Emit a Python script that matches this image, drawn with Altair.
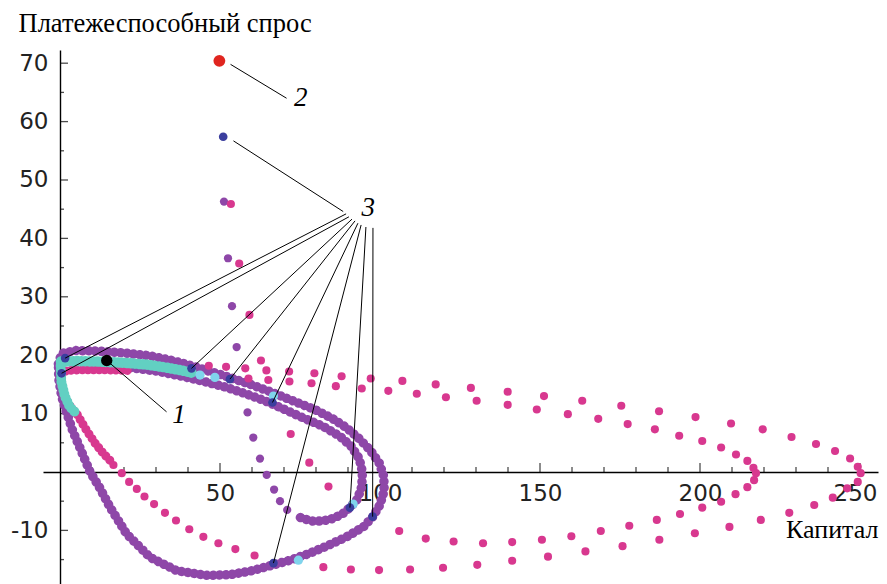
import altair as alt
import pandas as pd

# ---------------- data ----------------
# dense purple trajectory: outer closed band
po_x = [-0.5, 0.5, 5, 12, 20, 28, 35, 41, 47, 53, 59, 65, 70, 75, 80, 85, 89.5, 93.5, 97, 99.8, 101.2,
        101.3, 100, 97.7, 94.8, 89.6, 83.3, 78.1, 71.9, 66.7, 60, 53, 45.8, 36.5, 28.1, 20.8, 15.6,
        12.3, 9.4, 6.5, 4, 2, 0.5, -0.4, -0.5]
po_y = [18.5, 20.3, 20.8, 20.7, 20.4, 19.9, 19.1, 18.2, 17.2, 16.2, 15.1, 13.9, 12.8, 11.7, 10.6, 9.2, 7.6,
        5.7, 3.7, 1.5, -0.8, -3.2, -5.6, -7.7, -9.4, -11.1, -12.7, -13.9, -15.1, -15.9, -16.9, -17.6,
        -17.7, -16.9, -14.6, -10.6, -6.0, -2.6, 0, 3.8, 7.0, 10.3, 13, 16, 18.5]
# dense purple trajectory: inner loop
pi_x = [20, 30, 38, 45, 52, 58, 64, 69.8, 75, 82.3, 87.5, 91, 93.5, 94.5, 94.3, 93, 90.6, 88, 85, 82, 79, 76, 73.4]
pi_y = [18.0, 17.3, 16.4, 15.5, 14.5, 13.4, 12.2, 10.8, 9.5, 7.8, 6.1, 4.4, 2.3, 0, -2.5, -4.6, -6.1, -7.3,
        -8.0, -8.4, -8.4, -8.0, -7.4]
# sparse purple points (descent from the start)
pp_x = [51.25, 52.5, 53.75, 55.2, 58.6, 60.4, 62.5, 64.6, 66.9, 68.75, 71.0]
pp_y = [46.3, 36.6, 28.4, 21.4, 10.2, 5.9, 2.3, -0.5, -3.0, -5.0, -6.5]

# dense magenta part near the left edge
md_x = [21, 14, 7, 2, 0.3, 0.6, 1.8, 3.5, 5.2, 8.0, 11.0, 13.5, 15.6]
md_y = [17.4, 17.5, 17.5, 17.4, 16.5, 14.5, 12.5, 11.0, 10.0, 7.4, 4.9, 3.2, 2.0]

# sparse magenta points
m_descent_x = [53.4, 56, 59.2, 62.8, 72.1, 77.9, 83.9]
m_descent_y = [45.9, 35.7, 26.9, 19.1, 6.5, 1.6, -2.5]
m_loop1_x = [106, 114.3, 123, 132.2, 141.3, 150.6, 159.8, 169, 177.9, 186.5, 193.75, 200.7, 206.6, 211.1,
             214.8, 216.9, 217.5, 216.7, 214.8, 211.25, 206.6, 200.7, 193.5, 185.9, 177.4, 168.2, 158.7,
             149, 139.9, 130.2, 120.6, 111.5, 102.6, 94.3, 86.2, 78.6, 71.7, 65.1, 58.9]
m_loop1_y = [-10.1, -11.4, -11.9, -12.2, -12.0, -11.6, -11.0, -10.1, -9.2, -8.2, -7.2, -6.1, -5.1, -3.8,
             -2.6, -1.4, -0.2, 0.7, 1.9, 3.0, 4.2, 5.3, 6.2, 7.3, 8.2, 9.1, 9.9, 10.7, 11.5, 12.2, 12.8,
             13.4, 13.9, 14.3, 14.7, 15.2, 15.5, 15.75, 16.0]
m_left_x = [16.7, 19.3, 21.6, 24, 26.4, 29.4, 32.8, 36.25, 40.4, 44.8, 49.5, 54.8, 60.8]
m_left_y = [1.2, -0.2, -1.7, -2.9, -4.2, -5.5, -7.0, -8.3, -9.8, -11.1, -12.2, -13.2, -14.3]
m_loop2_x = [82.3, 90.9, 99.7, 109.4, 119.7, 130.4, 141.3, 152.5, 164.2, 175.8, 187.3, 198.4, 209.2, 219,
             227.9, 235.7, 241.5, 246, 249.3, 250.2, 249.3, 246.9, 242.2, 236.25, 228.6, 219.6, 209.7,
             198.6, 187.2, 175.4, 163.2, 151.25, 139.9, 128.4, 117.4, 107, 97.1, 88, 79.5, 71.6, 64.5,
             57.9, 51.9, 46.5]
m_loop2_y = [-16.3, -16.7, -16.8, -16.7, -16.4, -15.9, -15.2, -14.5, -13.6, -12.7, -11.6, -10.5, -9.4,
             -8.2, -7.0, -5.65, -4.4, -2.8, -1.7, -0.2, 0.9, 2.3, 3.6, 4.8, 6.0, 7.3, 8.3, 9.4, 10.4,
             11.35, 12.2, 13.0, 13.75, 14.4, 15.0, 15.6, 16.0, 16.4, 16.9, 17.2, 17.4, 17.75, 18.0, 18.2]

# teal (cyan) bands
tt_x = [0.3, 5, 12, 20, 27, 33, 38, 42]
tt_y = [18.9, 19.0, 18.9, 18.7, 18.4, 17.9, 17.4, 16.9]
tl_x = [0.2, 0.4, 1.5, 3.0, 4.6]
tl_y = [18.2, 15.5, 13.0, 11.2, 10.3]
# light-blue points
lb_x = [43.75, 48.4, 66.7, 74.5, 91.6]
lb_y = [16.6, 16.2, 13.0, -15.1, -5.5]
# dark-blue marker points (label 3)
bl_x = [51.0, 1.6, 0.5, 41.1, 53.1, 66.4, 66.7, 90.6, 97.7]
bl_y = [57.4, 19.5, 16.9, 17.75, 15.9, 11.9, -15.6, -6.1, -7.65]
# equilibrium (label 1) and start point (label 2)
eq_x, eq_y = [14.6], [19.1]
st_x, st_y = [49.8], [70.4]

# leader lines
ld_x1 = [14.6, 53.3, 88.5, 89.4, 90.3, 91.25, 92.2, 93.1, 94.1, 95.6, 97.8]
ld_y1 = [19.1, 69.8, 44.6, 44.2, 43.7, 43.3, 43.0, 42.6, 42.3, 41.95, 41.8]
ld_x2 = [33.3, 70.8, 54.2, 1.6, 0.5, 41.1, 53.1, 66.4, 66.7, 90.6, 97.7]
ld_y2 = [10.3, 64.0, 56.7, 19.5, 16.9, 17.75, 15.9, 11.9, -15.6, -6.1, -7.65]
lab_text = ["1", "2", "3"]
lab_x = [37.2, 75.2, 96.3]
lab_y = [9.7, 64.0, 45.2]

# axis ticks
x_major = [50, 100, 150, 200, 250]
x_minor = [10, 20, 30, 40, 60, 70, 80, 90, 110, 120, 130, 140, 160, 170, 180, 190, 210, 220, 230, 240]
y_major = [-10, 10, 20, 30, 40, 50, 60, 70]
y_minor = [-15, -5, 5, 15, 25, 35, 45, 55, 65]

# ---------------- layout ----------------
X_MIN, X_MAX = -5.3125, 255.625
Y_MIN, Y_MAX = -19.18, 72.26
W, H = 835, 534
x_off = round(H * Y_MAX / (Y_MAX - Y_MIN)) - H
y_off = -round(W * (0 - X_MIN) / (X_MAX - X_MIN))

PURPLE = "#8e47a8"
MAGENTA = "#d8388f"
TEAL = "#62d0c2"
LIGHT = "#80d4ec"
BLUE = "#3b3e9e"

XS = alt.Scale(domain=[X_MIN, X_MAX], nice=False, zero=False)
YS = alt.Scale(domain=[Y_MIN, Y_MAX], nice=False, zero=False)

hyphen = "datum.value < 0 ? '-' + format(abs(datum.value), 'd') : datum.label"
last_label_shift = {"condition": {"test": "datum.value == 250", "value": -5}, "value": 0}

x_axis = alt.Axis(values=x_major, offset=x_off, ticks=False, grid=False,
                  domainColor="black", domainWidth=1.4,
                  labelFont="DejaVu Sans", labelFontSize=23, labelColor="#222222",
                  labelPadding=10, labelFlush=False, labelOverlap=False,
                  labelOffset=last_label_shift,
                  title="Капитал", titleFont="Liberation Serif", titleFontSize=26,
                  titleFontWeight="normal", titleColor="black", titleX=835, titleY=65,
                  titleAlign="right", titleBaseline="alphabetic", titleAngle=0)
y_axis = alt.Axis(values=y_major, offset=y_off, ticks=False, grid=False,
                  domainColor="black", domainWidth=1.4, labelExpr=hyphen,
                  labelFont="DejaVu Sans", labelFontSize=23, labelColor="#222222",
                  labelPadding=12, labelFlush=False, labelOverlap=False,
                  title="Платежеспособный спрос", titleFont="Liberation Serif", titleFontSize=26.5,
                  titleFontWeight="normal", titleColor="black", titleAngle=0,
                  titleX=-42, titleY=-19, titleAlign="left", titleBaseline="alphabetic")


def X(f="x"):
    return alt.X(f"{f}:Q", scale=XS, axis=x_axis)


def Y(f="y"):
    return alt.Y(f"{f}:Q", scale=YS, axis=y_axis)


def line_df(xs, ys):
    return pd.DataFrame({"x": xs, "y": ys, "i": range(len(xs))})


def pts_df(xs, ys):
    return pd.DataFrame({"x": xs, "y": ys})


def dotted(xs, ys, color, width, gap):
    return alt.Chart(line_df(xs, ys)).mark_line(
        color=color, strokeWidth=width, strokeCap="round", strokeJoin="round",
        strokeDash=[0.1, gap]
    ).encode(x=X(), y=Y(), order=alt.Order("i:Q"))


def dots(xs, ys, color, size):
    return alt.Chart(pts_df(xs, ys)).mark_circle(color=color, size=size, opacity=1).encode(x=X(), y=Y())


layers = []
# axis ticks (pointing into the plot)
layers.append(alt.Chart(pd.DataFrame({"x": x_major}).assign(y=0)).mark_tick(
    orient="vertical", size=9, thickness=1.3, color="black", yOffset=-4.5).encode(x=X(), y=Y()))
layers.append(alt.Chart(pd.DataFrame({"x": x_minor}).assign(y=0)).mark_tick(
    orient="vertical", size=5, thickness=1.3, color="black", yOffset=-2.5).encode(x=X(), y=Y()))
layers.append(alt.Chart(pd.DataFrame({"y": y_major}).assign(x=0)).mark_tick(
    orient="horizontal", size=8, thickness=1.3, color="black", xOffset=4).encode(x=X(), y=Y()))
layers.append(alt.Chart(pd.DataFrame({"y": y_minor}).assign(x=0)).mark_tick(
    orient="horizontal", size=4, thickness=1.3, color="black", xOffset=2).encode(x=X(), y=Y()))

# trajectories
layers.append(dotted(po_x, po_y, PURPLE, 9.5, 6.3))
layers.append(dotted(pi_x, pi_y, PURPLE, 9.5, 6.3))
layers.append(dots(pp_x, pp_y, PURPLE, 68))
layers.append(dotted(md_x, md_y, MAGENTA, 9, 5.5))
for mx, my in [(m_descent_x, m_descent_y), (m_loop1_x, m_loop1_y),
               (m_left_x, m_left_y), (m_loop2_x, m_loop2_y)]:
    layers.append(dots(mx, my, MAGENTA, 66))
layers.append(dotted(tt_x, tt_y, TEAL, 10.5, 4))
layers.append(dotted(tl_x, tl_y, TEAL, 10, 4))
layers.append(dots(lb_x, lb_y, LIGHT, 85))
layers.append(dots(bl_x, bl_y, BLUE, 75))
layers.append(dots(eq_x, eq_y, "black", 130))
layers.append(dots(st_x, st_y, "#e0251f", 140))

# leader lines and labels
lead = pd.DataFrame({"x": ld_x1, "y": ld_y1, "x2": ld_x2, "y2": ld_y2})
layers.append(alt.Chart(lead).mark_rule(color="black", strokeWidth=1).encode(
    x=X(), y=Y(), x2="x2:Q", y2="y2:Q"))
labs = pd.DataFrame({"t": lab_text, "x": lab_x, "y": lab_y})
layers.append(alt.Chart(labs).mark_text(
    font="Liberation Serif", fontSize=27, fontStyle="italic", color="black",
    align="center", baseline="middle").encode(x=X(), y=Y(), text="t:N"))

chart = alt.layer(*layers).properties(
    width=W, height=H,
    padding={"left": 35, "top": 42, "right": 1, "bottom": 0},
    autosize=alt.AutoSizeParams(type="none"),
).configure(background="white").configure_view(stroke=None)

chart.save("out.html", embed_options={"renderer": "svg", "actions": False})
